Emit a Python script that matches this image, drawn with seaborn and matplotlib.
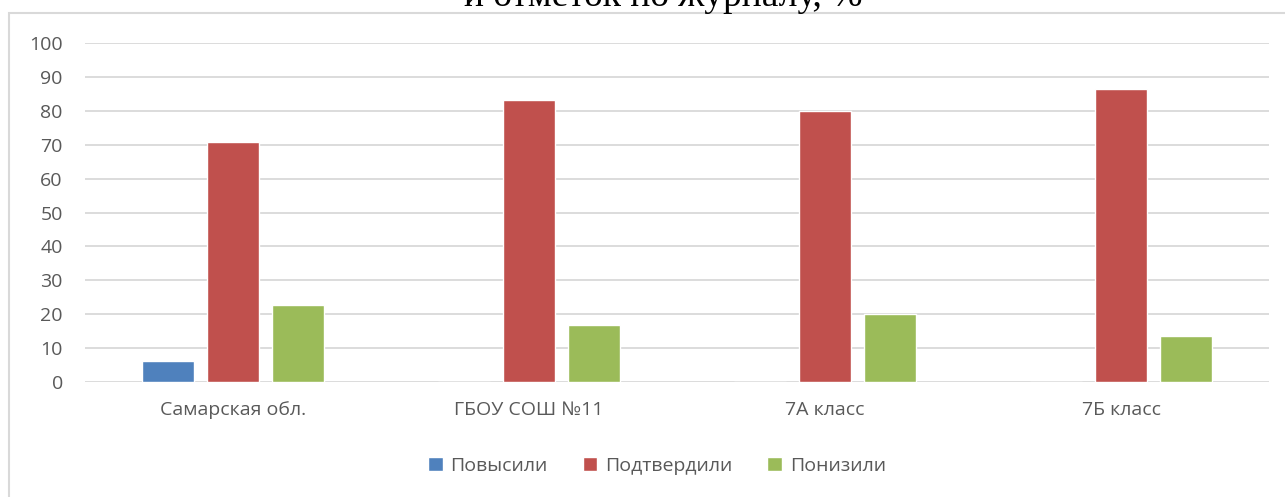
# Bar chart: confirmation of term marks by VPR results, % (Samara region, school, classes)

import pandas as pd
import matplotlib
matplotlib.use('Agg')
import matplotlib.pyplot as plt
from matplotlib.patches import Rectangle
import seaborn as sns

# Data
categories = ['Самарская обл.', 'ГБОУ СОШ №11', '7А класс', '7Б класс']
series_names = ['Повысили', 'Подтвердили', 'Понизили']
raised = [6.3, 0, 0, 0]
confirmed = [70.9, 83.3, 80.0, 86.4]
lowered = [22.8, 16.7, 20.0, 13.6]
y_ticks = [0, 10, 20, 30, 40, 50, 60, 70, 80, 90, 100]

# Build long-format table for seaborn
rows = []
for name, values in zip(series_names, [raised, confirmed, lowered]):
    for cat, v in zip(categories, values):
        rows.append({'category': cat, 'series': name, 'value': v})
df = pd.DataFrame(rows)

palette = {'Повысили': '#4F81BD', 'Подтвердили': '#C0504D', 'Понизили': '#9BBB59'}

sns.set_style('white')
plt.rcParams['font.family'] = ['Open Sans', 'DejaVu Sans']

W, H = 1285, 497
fig = plt.figure(figsize=(W / 100, H / 100), dpi=100)
ax = fig.add_axes([85 / W, 1 - 382 / H, (1269 - 85) / W, (382 - 43) / H])

sns.barplot(data=df, x='category', y='value', hue='series', palette=palette,
            width=0.662, gap=0.2, saturation=1, ax=ax, legend=True)

ax.set_ylim(0, 100)
ax.set_xlim(-0.5, 3.5)
ax.set_yticks(y_ticks)
ax.set_xlabel('')
ax.set_ylabel('')
ax.yaxis.grid(True, color='#D9D9D9', linewidth=1.3)
ax.set_axisbelow(True)
for s in ax.spines.values():
    s.set_visible(False)
ax.tick_params(axis='both', length=0, labelsize=14, labelcolor='#595959')
ax.tick_params(axis='y', pad=16)
ax.tick_params(axis='x', pad=14)

# Legend below the plot
handles, labels = ax.get_legend_handles_labels()
ax.legend_.remove()
fig.legend(handles, labels, loc='center', bbox_to_anchor=(657 / W, 1 - 466 / H),
           ncol=3, frameon=False, fontsize=14, handlelength=0.75, handleheight=0.75,
           handletextpad=0.4, columnspacing=1.8, labelcolor='#595959')

# Chart frame (partly outside the crop)
fig.patches.append(Rectangle((9 / W, -0.1), 1.2, 1.1 - 13 / H, transform=fig.transFigure,
                             fill=False, edgecolor='#D9D9D9', linewidth=1.5))

# Title, only the lower part visible
fig.text(663 / W, 1 - 6 / H, 'и отметок по журналу, %', ha='center', va='baseline',
         fontsize=27, family='Liberation Serif', color='black')

fig.savefig('out.png', dpi=100)
